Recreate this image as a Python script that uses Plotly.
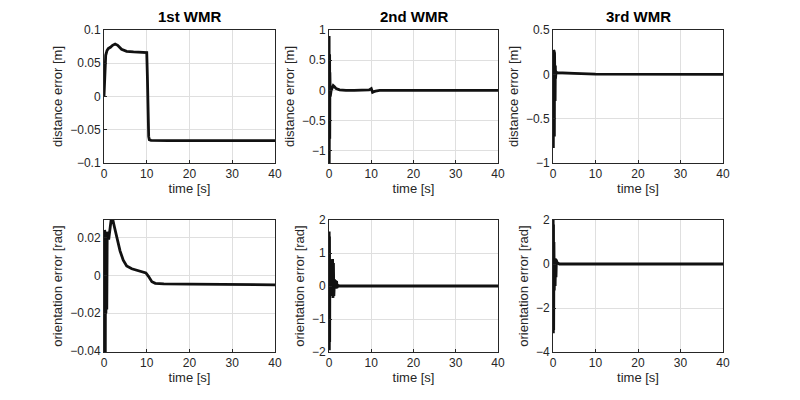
import plotly.graph_objects as go

# ---- data ----
titles = ["1st WMR", "2nd WMR", "3rd WMR"]
x_ticks = [0, 10, 20, 30, 40]

t_d1 = [0, 0.2, 0.4, 0.7, 1.0, 1.5, 2.0, 2.6, 3.2, 4.1, 5.3, 6.9, 8.5, 9.9, 10.0, 10.15, 10.3, 10.45, 10.6, 11.0, 15, 20, 30, 40]
e_d1 = [0, 0.035, 0.062, 0.069, 0.072, 0.074, 0.077, 0.079, 0.077, 0.071, 0.068, 0.067, 0.067, 0.067, 0.066, 0.03, -0.03, -0.06, -0.065, -0.066, -0.0665, -0.0665, -0.0665, -0.0665]

t_d2 = [0, 0.03, 0.06, 0.09, 0.12, 0.15, 0.18, 0.21, 0.24, 0.3, 0.5, 0.8, 1.0, 1.3, 1.7, 2.5, 4, 6, 8, 9.5, 10, 10.3, 10.6, 11, 12, 15, 20, 30, 40]
e_d2 = [0, 0.9, -1.2, 0.85, -1.15, 0.6, -0.8, 0.3, -0.3, -0.1, 0.0, 0.06, 0.08, 0.06, 0.03, 0.01, 0.0, 0.0, 0.0, 0.01, 0.03, -0.03, -0.02, -0.01, 0, 0, 0, 0, 0]

t_d3 = [0, 0.04, 0.08, 0.12, 0.16, 0.2, 0.24, 0.28, 0.32, 0.36, 0.4, 0.45, 0.5, 0.55, 0.6, 0.7, 0.9, 2, 5, 10, 20, 30, 40]
e_d3 = [0, 0.27, -0.83, 0.27, -0.82, 0.26, -0.8, 0.26, -0.7, 0.25, -0.5, 0.2, -0.3, 0.1, -0.05, 0.03, 0.02, 0.015, 0.01, 0.003, 0.0, 0.0, 0.0]

t_o1 = [0, 0.05, 0.1, 0.15, 0.2, 0.25, 0.3, 0.35, 0.45, 0.55, 0.65, 0.75, 0.9, 1.1, 1.3, 1.5, 1.7, 1.9, 2.1, 2.4, 3.0, 3.75, 4.5, 5.3, 6.5, 7.7, 8.8, 9.8, 10.4, 11.2, 12, 14, 20, 30, 40]
e_o1 = [0, 0.024, -0.05, 0.024, -0.05, 0.022, -0.05, 0.02, -0.02, 0.02, -0.018, 0.022, 0.023, 0.019, 0.022, 0.027, 0.03, 0.03, 0.029, 0.026, 0.02, 0.013, 0.008, 0.005, 0.0035, 0.0027, 0.0022, 0.0013, -0.0005, -0.0033, -0.0042, -0.0045, -0.0046, -0.0048, -0.005]

t_o2 = [0, 0.04, 0.08, 0.12, 0.16, 0.2, 0.3, 0.5, 0.75, 0.85, 0.95, 1.05, 1.15, 1.3, 1.5, 1.6, 1.7, 1.8, 1.9, 2.1, 2.5, 4, 10, 20, 30, 40]
e_o2 = [0, 1.65, -1.95, 1.5, -1.7, 0.8, -0.3, 0.05, 0.1, 0.82, -0.36, 0.7, -0.3, 0.2, 0.05, 0.17, -0.08, 0.15, -0.05, 0.02, 0, 0, 0, 0, 0, 0]

t_o3 = [0, 0.04, 0.08, 0.12, 0.16, 0.22, 0.3, 0.4, 0.5, 0.6, 0.7, 0.8, 0.9, 1.1, 1.5, 3, 10, 20, 30, 40]
e_o3 = [0, 2.1, -3.15, 1.8, -3.0, 1.0, -1.2, 0.26, -1.0, 0.25, -0.6, 0.2, 0.0, 0.05, 0.0, 0, 0, 0, 0, 0]

y_ranges = [[-0.1, 0.1], [-1.2, 1], [-1, 0.5], [-0.0405, 0.0293], [-2, 2], [-4, 2]]
y_dticks = [0.05, 0.5, 0.5, 0.02, 1, 2]
y_titles = ["distance error [m]"] * 3 + ["orientation error [rad]"] * 3

series = [(t_d1, e_d1), (t_d2, e_d2), (t_d3, e_d3), (t_o1, e_o1), (t_o2, e_o2), (t_o3, e_o3)]

# ---- layout (page body has an 8px offset) ----
x_domains = [[0.12, 0.33375], [0.40125, 0.6125], [0.68125, 0.89375]]
y_domains = [[0.6125, 0.945], [0.14, 0.47]]

FONT = "Liberation Sans, Arial, sans-serif"
fig = go.Figure()
layout = dict(
    width=800, height=400, margin=dict(l=0, r=0, t=0, b=0, autoexpand=False),
    paper_bgcolor="white", plot_bgcolor="white", showlegend=False,
    font=dict(family=FONT, size=12, color="#262626"),
)
annotations = []
for i, (t, e) in enumerate(series):
    r, c = divmod(i, 3)
    n = i + 1
    xa = "x" if n == 1 else f"x{n}"
    ya = "y" if n == 1 else f"y{n}"
    fig.add_trace(go.Scatter(x=t, y=e, mode="lines", xaxis=xa, yaxis=ya,
                             line=dict(color="#111111", width=2.8)))
    common = dict(showline=True, mirror=True, linecolor="#262626", linewidth=1,
                  ticks="inside", ticklen=3, tickcolor="#262626", automargin=False,
                  showgrid=True, gridcolor="#dfdfdf", gridwidth=1, zeroline=False,
                  tickfont=dict(size=12, color="#262626"))
    layout["xaxis" if n == 1 else f"xaxis{n}"] = dict(
        common, domain=x_domains[c], anchor=ya, range=[0, 40], tickvals=x_ticks,
        title=dict(text="time [s]", font=dict(size=13), standoff=3))
    layout["yaxis" if n == 1 else f"yaxis{n}"] = dict(
        common, domain=y_domains[r], anchor=xa, range=y_ranges[i], dtick=y_dticks[i],
        title=dict(text=y_titles[i], font=dict(size=13), standoff=4))
    if r == 0:
        annotations.append(dict(text=f"<b>{titles[c]}</b>", xref="paper", yref="paper",
                                x=sum(x_domains[c]) / 2, y=0.9775, xanchor="center",
                                yanchor="middle", showarrow=False,
                                font=dict(size=15, color="black", family=FONT)))
layout["annotations"] = annotations
fig.update_layout(**layout)
fig.write_html("out.html")
